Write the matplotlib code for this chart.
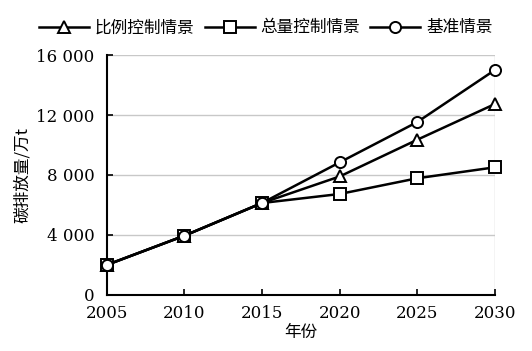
import matplotlib.pyplot as plt
from matplotlib.ticker import FuncFormatter

plt.rcParams['font.family'] = ['DejaVu Serif', 'Noto Sans CJK SC']

years = [2005, 2010, 2015, 2020, 2025, 2030]
ratio_ctrl = [2000, 3950, 6130, 7900, 10350, 12730]
total_ctrl = [2000, 3950, 6130, 6730, 7780, 8510]
baseline = [2000, 3950, 6130, 8840, 11530, 15000]

labels = ['比例控制情景', '总量控制情景', '基准情景']
markers = ['^', 's', 'o']

fig = plt.figure(figsize=(5.32, 3.51), dpi=100)
ax = fig.add_axes([0.201, 0.160, 0.729, 0.683])

for vals, lab, mk in zip([ratio_ctrl, total_ctrl, baseline], labels, markers):
    ax.plot(years, vals, color='black', lw=1.8, marker=mk, markersize=8,
            markerfacecolor='white', markeredgecolor='black', markeredgewidth=1.4,
            label=lab, clip_on=False, zorder=3)

ax.set_xlim(2005, 2030)
ax.set_ylim(0, 16000)
ax.set_xticks(years)
ax.set_yticks([0, 4000, 8000, 12000, 16000])
ax.yaxis.set_major_formatter(FuncFormatter(lambda v, p: f'{int(v):,}'.replace(',', ' ')))
ax.grid(axis='y', color='#c8c8c8', lw=1)
ax.axvline(2030, color='#c8c8c8', lw=1, zorder=0)
ax.set_axisbelow(True)
for s in ['top', 'right']:
    ax.spines[s].set_visible(False)
for s in ['left', 'bottom']:
    ax.spines[s].set_linewidth(1.5)
ax.tick_params(direction='in', length=4, width=1.2, labelsize=12)
ax.tick_params(axis='x', pad=7)
ax.tick_params(axis='y', pad=9)

ax.set_xlabel('年份', fontsize=12, family=['Noto Sans CJK SC'], labelpad=2)
ax.set_ylabel('碳排放量/万t', fontsize=12, family=['Noto Sans CJK SC', 'DejaVu Serif'], labelpad=4)

ax.legend(loc='lower center', bbox_to_anchor=(0.41, 1.05), ncol=3, frameon=False,
          prop={'family': 'Noto Sans CJK SC', 'size': 12}, handlelength=3.0,
          columnspacing=0.6, handletextpad=0.35, borderaxespad=0)

fig.savefig('out.png', dpi=100)
